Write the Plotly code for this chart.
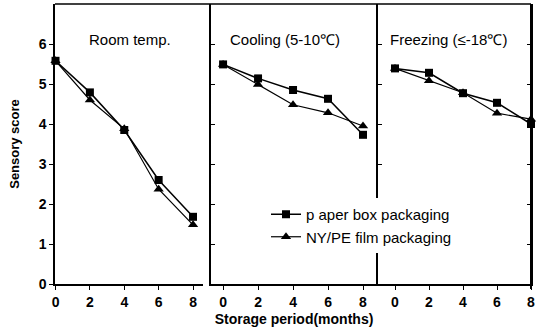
import plotly.graph_objects as go

months = [0, 2, 4, 6, 8]
panel_titles = ["Room temp.", "Cooling (5-10\u2103)", "Freezing (\u2264-18\u2103)"]
series_names = ["p aper box packaging", "NY/PE film packaging"]

room_paper = [5.58, 4.79, 3.85, 2.60, 1.68]
room_film = [5.58, 4.60, 3.88, 2.37, 1.48]
cool_paper = [5.49, 5.14, 4.85, 4.63, 3.73]
cool_film = [5.49, 4.99, 4.48, 4.28, 3.95]
freeze_paper = [5.39, 5.28, 4.77, 4.53, 4.00]
freeze_film = [5.39, 5.08, 4.78, 4.27, 4.12]

y_ticks = [0, 1, 2, 3, 4, 5, 6]
x_ticks = [0, 2, 4, 6, 8]

W, H = 549, 332
FONT = "Liberation Sans, Arial, sans-serif"

fig = go.Figure()
panels = [(room_paper, room_film), (cool_paper, cool_film), (freeze_paper, freeze_film)]
for i, (paper, film) in enumerate(panels):
    xa = "x" if i == 0 else f"x{i+1}"
    ya = "y" if i == 0 else f"y{i+1}"
    fig.add_trace(go.Scatter(x=months, y=paper, xaxis=xa, yaxis=ya, mode="lines+markers",
                             name=series_names[0], showlegend=(i == 0), legendrank=1,
                             cliponaxis=False,
                             line=dict(color="black", width=1.5),
                             marker=dict(symbol="square", size=8, color="black")))
    fig.add_trace(go.Scatter(x=months, y=film, xaxis=xa, yaxis=ya, mode="lines+markers",
                             name=series_names[1], showlegend=(i == 0), legendrank=2,
                             cliponaxis=False,
                             line=dict(color="black", width=1.2),
                             marker=dict(symbol="triangle-up", size=9, color="black")))

def px_x(p):
    return p / W

def px_y(p):
    return 1 - p / H

ydom = [px_y(284), px_y(4)]
xdoms = [[px_x(55), px_x(203)], [px_x(211), px_x(377)], [px_x(378), px_x(531)]]
xranges = [[-0.03, 8.58], [-0.69, 8.8], [-1.0, 8.0]]

tickfont = dict(family=FONT, size=14, color="black", weight="bold")
axis_common = dict(showgrid=False, zeroline=False, showline=True, linecolor="black",
                   linewidth=1.5, tickcolor="black", ticklen=4, tickwidth=1.2,
                   automargin=False)

layout = dict(width=W, height=H, margin=dict(l=0, r=0, t=0, b=0, autoexpand=False),
              paper_bgcolor="white", plot_bgcolor="white", showlegend=True)

for i in range(3):
    xk = "xaxis" if i == 0 else f"xaxis{i+1}"
    yk = "yaxis" if i == 0 else f"yaxis{i+1}"
    ya = "y" if i == 0 else f"y{i+1}"
    xa = "x" if i == 0 else f"x{i+1}"
    layout[xk] = dict(domain=xdoms[i], range=xranges[i], anchor=ya, tickvals=x_ticks,
                      ticks="outside", tickfont=tickfont, **axis_common)
    ycfg = dict(domain=ydom, range=[0, 7], anchor=xa, tickvals=y_ticks,
                tickfont=tickfont, **axis_common)
    if i == 0:
        ycfg.update(ticks="outside", showticklabels=True,
                    title=dict(text="Sensory score", standoff=16,
                               font=dict(family=FONT, size=13, color="black", weight="bold")))
    else:
        ycfg.update(ticks="inside", showticklabels=False)
    if i == 2:
        ycfg.update(mirror="allticks")
    layout[yk] = ycfg

layout["xaxis2"]["title"] = dict(text="Storage period(months)", standoff=6,
                                 font=dict(family=FONT, size=14, color="black", weight="bold"))

fig.update_layout(**layout)

# top border spanning the panels
fig.add_shape(type="line", xref="paper", yref="paper", x0=px_x(55), x1=px_x(531),
              y0=px_y(4), y1=px_y(4), line=dict(color="black", width=1.5), layer="above")
# right border of the last panel, tied to the x3 axis end
fig.add_shape(type="line", xref="x3 domain", yref="paper", x0=1.0, x1=1.0,
              y0=px_y(4), y1=px_y(289), line=dict(color="black", width=2), layer="above")

title_pos = [(130, 39, "center"), (229, 39, "left"), (389, 40, "left")]
for (x, y, anc), t in zip(title_pos, panel_titles):
    fig.add_annotation(text=t, xref="paper", yref="paper", x=px_x(x), y=px_y(y),
                       xanchor=anc, yanchor="middle", showarrow=False, borderpad=0,
                       font=dict(family=FONT, size=15, color="black"))

fig.update_layout(legend=dict(x=px_x(266), y=px_y(198), xanchor="left", yanchor="top",
                              bgcolor="white", font=dict(family=FONT, size=15, color="black"),
                              tracegroupgap=0, itemwidth=30))

fig.write_html(
    "out.html",
    config={"displayModeBar": False},
    post_script=(
        "document.body.style.margin='0';"
        "document.body.style.overflow='hidden';"
        "document.documentElement.style.overflow='hidden';"
    ),
)
